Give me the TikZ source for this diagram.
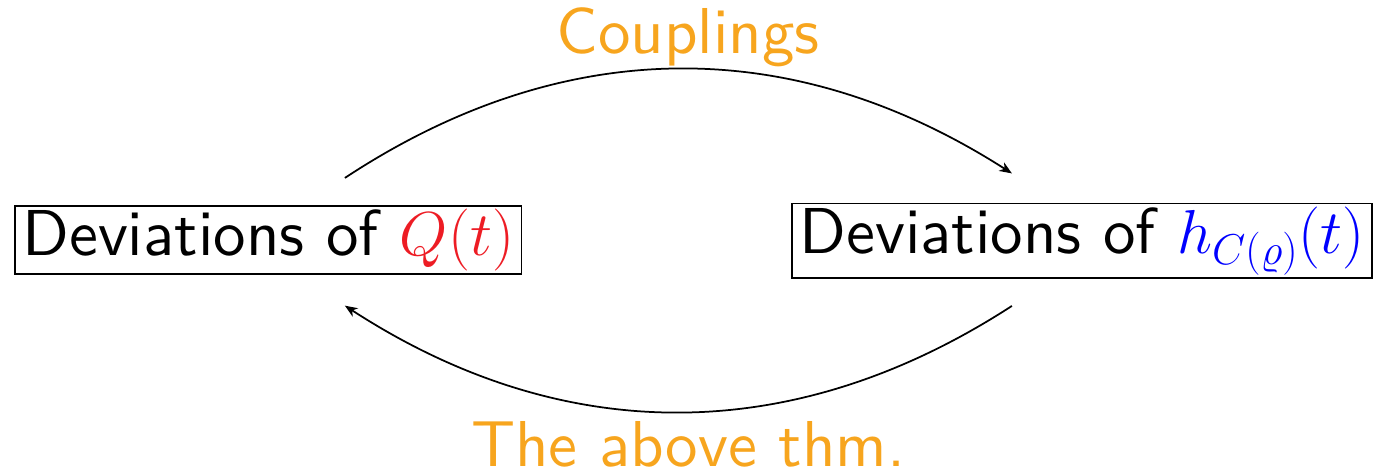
\documentclass[tikz,border=0pt]{standalone}
\usepackage{amsmath}
\usepackage{fontspec}
\usepackage{tikz}
\usetikzlibrary{arrows.meta, positioning, calc}
\newfontfamily\devfont{lmsans10-regular.otf}
\newcommand\bigdev{\fontsize{26}{31}\selectfont\devfont}
\definecolor{labelorange}{RGB}{247,165,30}
\definecolor{qred}{RGB}{237,28,36}
\tikzset{
  % Boxes for the two quantities
  devbox/.style={draw, line width=0.7pt, inner xsep=3pt, inner ysep=1.3pt, font=\bigdev},
  % Labels on the arcs
  arclabel/.style={text=labelorange, inner sep=0pt, font=\bigdev},
  % Pointers
  looppointer/.style={-{Stealth[length=5pt, width=4pt, inset=1.5pt]}, line width=0.7pt, draw=black},
}
\begin{document}
\begin{tikzpicture}
    \useasboundingbox (0,0) rectangle (19.49,6.69);

      % Define boxes
      \node[devbox, anchor=west] (qbox) at (0.197,3.31) {Deviations of $\color{qred}Q(t)$};
      \node[devbox, anchor=west] (hbox) at (11.14,3.30) {Deviations of $\color{blue}h_{C(\varrho)}(t)$};

      % Arc ends
      \coordinate (qtop) at ($(qbox.north west)+(4.66,0.38)$);
      \coordinate (qbot) at ($(qbox.south west)+(4.66,-0.43)$);
      \coordinate (htop) at ($(hbox.north west)+(3.11,0.41)$);
      \coordinate (hbot) at ($(hbox.south west)+(3.11,-0.38)$);

      \draw[looppointer] (qtop) to[bend left=33] (htop);
      \draw[looppointer] (hbot) to[bend left=33] (qbot);

      \node[arclabel, anchor=base] (couplings) at (9.69,5.93) {Couplings};
      \node[arclabel, anchor=base] (thm) at (9.69,0.12) {The above thm.};

    \end{tikzpicture}
\end{document}
